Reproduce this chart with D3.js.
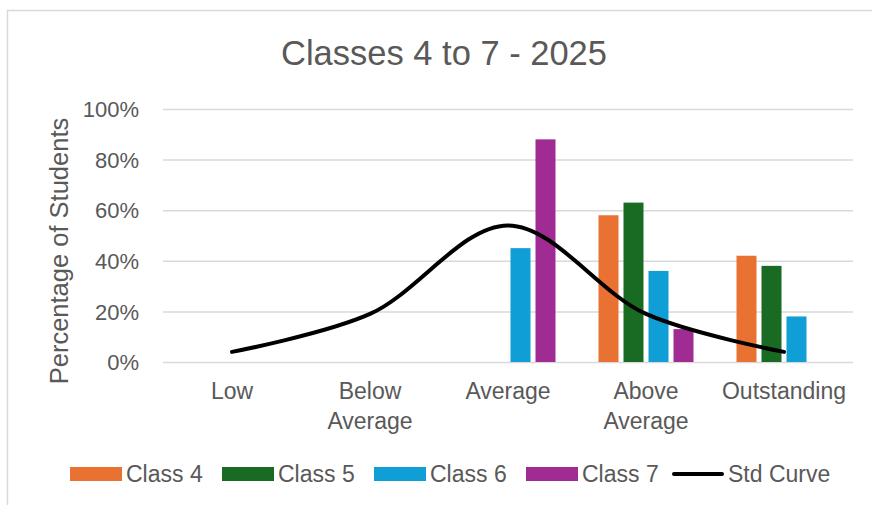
<!DOCTYPE html>
<html><head><meta charset="utf-8">
<script src="https://cdn.jsdelivr.net/npm/d3@7"></script>
<style>body{margin:0;background:#fff}svg{display:block}text{font-family:"Liberation Sans",Arial,sans-serif;fill:#595959}</style>
</head><body><svg id="c" width="872" height="505"></svg>
<script>
const categories = ["Low", "Below Average", "Average", "Above Average", "Outstanding"];
const seriesNames = ["Class 4", "Class 5", "Class 6", "Class 7"];
const class4 = [0, 0, 0, 0.58, 0.42];
const class5 = [0, 0, 0, 0.63, 0.38];
const class6 = [0, 0, 0.45, 0.36, 0.18];
const class7 = [0, 0, 0.88, 0.13, 0];
const stdCurve = [0.04, 0.19, 0.54, 0.19, 0.04];
const yTicks = [0, 0.2, 0.4, 0.6, 0.8, 1.0];
const colors = ["#E97132", "#196B24", "#0F9ED5", "#A02B93"];
const title = "Classes 4 to 7 - 2025";
const yTitle = "Percentage of Students";

const series = [class4, class5, class6, class7];
const svg = d3.select("#c");

// chart border
svg.append("path").attr("d", "M7.5,505 V10.5 H872").attr("fill", "none").attr("stroke", "#d9d9d9").attr("stroke-width", 1.5);

const x = d3.scaleBand().domain(categories).range([163, 853]).paddingInner(0).paddingOuter(0);
const xs = d3.scaleBand().domain(seriesNames).range([-50, 50]).paddingInner(0.2).paddingOuter(0.1);
const y = d3.scaleLinear().domain([0, 1]).range([362, 109]);

// gridlines + y axis
const yAxis = d3.axisLeft(y).tickValues(yTicks).tickFormat(d3.format(".0%")).tickSize(-(853 - 163)).tickPadding(24);
const gy = svg.append("g").attr("transform", "translate(163,0)").call(yAxis);
gy.select(".domain").remove();
gy.selectAll(".tick line").attr("stroke", "#d9d9d9").attr("stroke-width", 1.5);
gy.selectAll(".tick text").style("font-size", "22px").attr("fill", "#595959").attr("dy", "0.35em");

// bars
seriesNames.forEach((s, i) => {
  svg.append("g").selectAll("rect").data(categories.map((c, j) => ({c, v: series[i][j]})).filter(d => d.v > 0))
    .join("rect")
    .attr("x", d => x(d.c) + x.bandwidth() / 2 + xs(s))
    .attr("width", xs.bandwidth())
    .attr("y", d => y(d.v))
    .attr("height", d => y(0) - y(d.v))
    .attr("fill", colors[i]);
});

// std curve
const line = d3.line().x((d, j) => x(categories[j]) + x.bandwidth() / 2).y(d => y(d)).curve(d3.curveCatmullRom.alpha(0.5));
svg.append("path").attr("d", line(stdCurve)).attr("fill", "none").attr("stroke", "#000").attr("stroke-width", 4).attr("stroke-linecap", "round");

// x axis labels
const xAxis = d3.axisBottom(x).tickSize(0).tickPadding(0);
const gx = svg.append("g").attr("transform", "translate(0,362)").call(xAxis);
gx.select(".domain").remove();
gx.selectAll(".tick text").each(function(d) {
  const t = d3.select(this).text(null).attr("y", 0).attr("dy", null).style("font-size", "23px").attr("fill", "#595959");
  const words = d.split(" ");
  words.forEach((w, k) => t.append("tspan").attr("x", 0).attr("y", 37 + k * 30).text(w));
});

// title
svg.append("text").attr("x", 444).attr("y", 65).attr("text-anchor", "middle").style("font-size", "34.5px").text(title);

// y title
svg.append("text").attr("transform", "translate(68,251) rotate(-90)").attr("text-anchor", "middle").style("font-size", "25.5px").text(yTitle);

// legend
const legendItems = seriesNames.map((s, i) => ({name: s, color: colors[i], type: "rect"})).concat([{name: "Std Curve", type: "line"}]);
const legendX = [70, 222, 374, 526, 672];
const lg = svg.append("g");
legendItems.forEach((d, i) => {
  const g = lg.append("g").attr("transform", `translate(${legendX[i]},474)`);
  if (d.type === "rect") g.append("rect").attr("x", 0).attr("y", -7).attr("width", 52).attr("height", 14).attr("fill", d.color);
  else g.append("line").attr("x1", 2).attr("x2", 50).attr("y1", 0).attr("y2", 0).attr("stroke", "#000").attr("stroke-width", 4).attr("stroke-linecap", "round");
  g.append("text").attr("x", 56).attr("y", 0).attr("dy", "0.35em").style("font-size", "23px").text(d.name);
});
</script></body></html>
